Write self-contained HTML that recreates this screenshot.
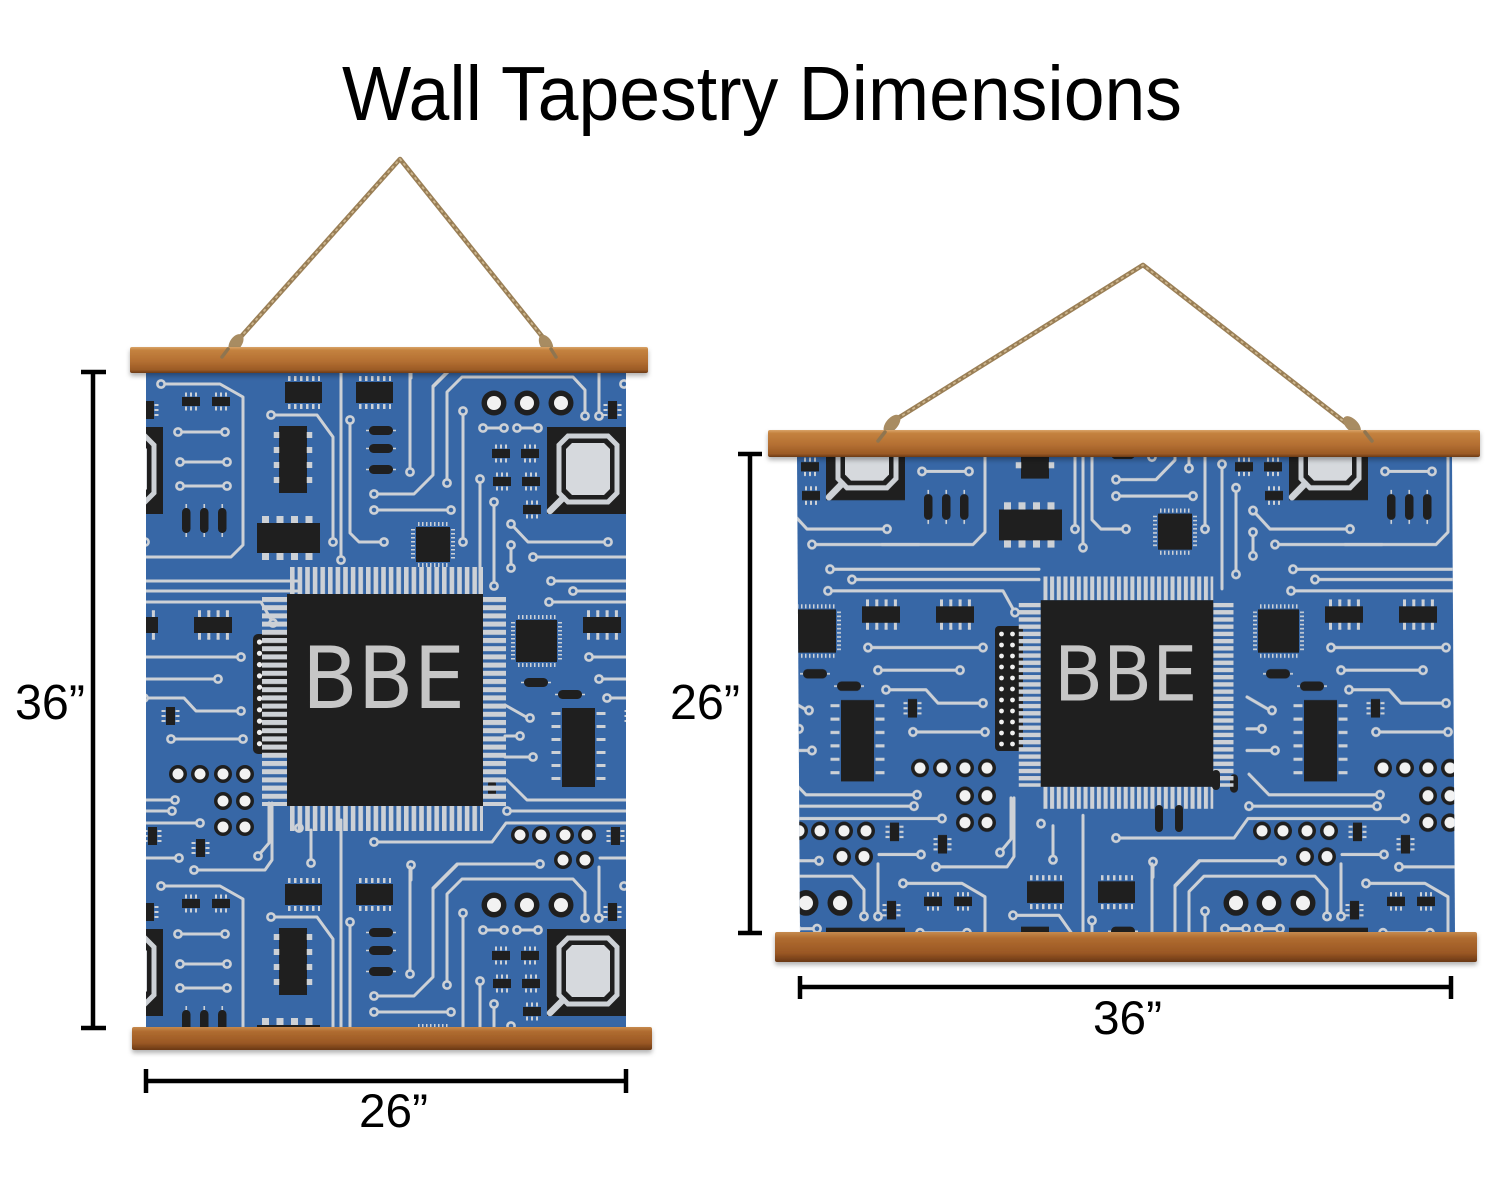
<!DOCTYPE html>
<html>
<head>
<meta charset="utf-8">
<style>
html,body{margin:0;padding:0;background:#fff;}
svg{display:block;}
</style>
</head>
<body>
<svg width="1500" height="1180" viewBox="0 0 1500 1180" xmlns="http://www.w3.org/2000/svg">
<defs>
<style>
.t{fill:none;stroke:#cdd1d6;stroke-width:3;stroke-linejoin:round;stroke-linecap:round}
.c{fill:#3767a6;stroke:#cdd1d6;stroke-width:2.6}
.k{fill:#1f1f1f}
.p{fill:none;stroke:#cdd1d6}
.w{fill:#f2f2f2}
</style>
<linearGradient id="wd" x1="0" y1="0" x2="0" y2="1">
<stop offset="0" stop-color="#d9a468"/><stop offset=".12" stop-color="#c4823f"/><stop offset=".55" stop-color="#b46f32"/><stop offset=".88" stop-color="#9b5a25"/><stop offset="1" stop-color="#6b3a16"/>
</linearGradient>
<linearGradient id="wd2" x1="0" y1="0" x2="0" y2="1">
<stop offset="0" stop-color="#c68a4e"/><stop offset=".2" stop-color="#b06c30"/><stop offset=".7" stop-color="#9a5724"/><stop offset="1" stop-color="#6a3815"/>
</linearGradient>
<filter id="sh" x="-5%" y="-50%" width="110%" height="250%">
<feDropShadow dx="0" dy="3" stdDeviation="2.5" flood-color="#000" flood-opacity=".3"/>
</filter>
<pattern id="vs" patternUnits="userSpaceOnUse" x="290" y="0" width="7.6" height="10"><rect width="4.6" height="10" fill="#cdd1d6"/></pattern>
<pattern id="hs" patternUnits="userSpaceOnUse" x="0" y="597" width="10" height="8.2"><rect width="10" height="5" fill="#cdd1d6"/></pattern>

<g id="sic"><rect class="k" width="18" height="9"/><path class="p" d="M3,-2.5H16M3,11.5H16" stroke-width="4" stroke-dasharray="2 3"/></g>
<g id="sicv"><rect class="k" width="9" height="18"/><path class="p" d="M-2.5,3V16M11.5,3V16" stroke-width="4" stroke-dasharray="2 3"/></g>
<g id="ic4"><rect class="k" width="38" height="16"/><path class="p" d="M4,-3H36M4,19H36" stroke-width="6" stroke-dasharray="3 6.3"/><path class="p" d="M4,-6H36M4,22H36" stroke-width="1.5" stroke-dasharray="3 6.3"/></g>
<g id="ic6"><rect class="k" width="37" height="21"/><path class="p" d="M3,-3.5H35M3,24.5H35" stroke-width="5" stroke-dasharray="2.5 3.5"/></g>
<g id="bc"><circle class="k" r="12.5"/><circle class="w" r="7"/></g>
<g id="mc"><circle class="k" r="9"/><circle class="w" r="5.5"/></g>
<g id="rh"><rect class="k" width="24" height="9" rx="4.5"/><path class="p" d="M-3,4.5H0M24,4.5H27" stroke-width="1.6"/></g>
<g id="rv"><rect class="k" width="8.5" height="25" rx="4.2"/><path class="p" d="M4.25,-4V0M4.25,25V29" stroke-width="1.6"/></g>

<g id="tile">
<path class="t" d="M161,384H220L243,397V545L231,557H140"/>
<path class="t" d="M533,557H640"/>
<path class="t" d="M178,432H225M180,462H227M180,486H227"/>
<path class="t" d="M271,415H317L333,437V542"/>
<path class="t" d="M341,365V560M341,820V880"/>
<path class="t" d="M350,420V533L359,542H384"/>
<path class="t" d="M410,365V472M411,865V880"/>
<path class="t" d="M374,494H414L433,475V387L457,363"/>
<path class="t" d="M540,864H457L433,888"/>
<path class="t" d="M374,510H451"/>
<path class="t" d="M447,483V392L462,377H573L585,390V416"/>
<path class="t" d="M599,365V416"/>
<path class="t" d="M463,411V542"/>
<path class="t" d="M480,479V600"/>
<path class="t" d="M494,502V586"/>
<path class="t" d="M511,524L528,542H608"/>
<path class="t" d="M511,545V568"/>
<path class="t" d="M551,581H760M573,591H760"/>
<path class="t" d="M549,602H724L736,623"/>
<path class="t" d="M589,657H704M599,679H681"/>
<path class="t" d="M607,698H647L659,711H704"/>
<path class="t" d="M171,739H243"/>
<path class="t" d="M507,780L527,800H638"/>
<path class="t" d="M507,811H635"/>
<path class="t" d="M374,842H492L506,823H663"/>
<path class="t" d="M600,858H642"/>
<path class="t" d="M194,870H265L272,860V803"/>
<path class="t" d="M258,856L269,843V803"/>
<path class="t" d="M311,863V830"/>
<path class="t" d="M505,705L528,718M505,736H520M505,757H533"/>
<path class="t" d="M483,428H504M517,428H538"/>
<g>
<circle class="c" cx="161" cy="384" r="3.6"/><circle class="c" cx="178" cy="432" r="3.6"/><circle class="c" cx="225" cy="432" r="3.6"/>
<circle class="c" cx="180" cy="462" r="3.6"/><circle class="c" cx="227" cy="462" r="3.6"/><circle class="c" cx="180" cy="486" r="3.6"/>
<circle class="c" cx="227" cy="486" r="3.6"/><circle class="c" cx="271" cy="415" r="3.6"/><circle class="c" cx="333" cy="542" r="3.6"/>
<circle class="c" cx="341" cy="560" r="3.6"/><circle class="c" cx="350" cy="420" r="3.6"/><circle class="c" cx="384" cy="542" r="3.6"/>
<circle class="c" cx="410" cy="472" r="3.6"/><circle class="c" cx="411" cy="865" r="3.6"/><circle class="c" cx="374" cy="494" r="3.6"/>
<circle class="c" cx="374" cy="510" r="3.6"/><circle class="c" cx="451" cy="510" r="3.6"/><circle class="c" cx="447" cy="483" r="3.6"/>
<circle class="c" cx="585" cy="416" r="3.6"/><circle class="c" cx="599" cy="416" r="3.6"/><circle class="c" cx="463" cy="411" r="3.6"/>
<circle class="c" cx="463" cy="542" r="3.6"/><circle class="c" cx="480" cy="479" r="3.6"/><circle class="c" cx="494" cy="502" r="3.6"/>
<circle class="c" cx="494" cy="586" r="3.6"/><circle class="c" cx="511" cy="524" r="3.6"/><circle class="c" cx="608" cy="542" r="3.6"/>
<circle class="c" cx="511" cy="545" r="3.6"/><circle class="c" cx="511" cy="568" r="3.6"/><circle class="c" cx="533" cy="557" r="3.6"/>
<circle class="c" cx="551" cy="581" r="3.6"/><circle class="c" cx="573" cy="591" r="3.6"/><circle class="c" cx="549" cy="602" r="3.6"/>
<circle class="c" cx="736" cy="623" r="3.6"/><circle class="c" cx="589" cy="657" r="3.6"/><circle class="c" cx="704" cy="657" r="3.6"/>
<circle class="c" cx="599" cy="679" r="3.6"/><circle class="c" cx="681" cy="679" r="3.6"/><circle class="c" cx="607" cy="698" r="3.6"/>
<circle class="c" cx="704" cy="711" r="3.6"/><circle class="c" cx="171" cy="739" r="3.6"/><circle class="c" cx="243" cy="739" r="3.6"/>
<circle class="c" cx="638" cy="800" r="3.6"/><circle class="c" cx="507" cy="811" r="3.6"/><circle class="c" cx="635" cy="811" r="3.6"/>
<circle class="c" cx="374" cy="842" r="3.6"/><circle class="c" cx="663" cy="823" r="3.6"/><circle class="c" cx="642" cy="858" r="3.6"/>
<circle class="c" cx="194" cy="870" r="3.6"/><circle class="c" cx="258" cy="856" r="3.6"/><circle class="c" cx="311" cy="863" r="3.6"/>
<circle class="c" cx="540" cy="864" r="3.6"/><circle class="c" cx="530" cy="718" r="3.6"/><circle class="c" cx="520" cy="736" r="3.6"/>
<circle class="c" cx="533" cy="757" r="3.6"/><circle class="c" cx="299" cy="828" r="3.6"/>
<circle class="c" cx="483" cy="428" r="3.6"/><circle class="c" cx="504" cy="428" r="3.6"/><circle class="c" cx="517" cy="428" r="3.6"/><circle class="c" cx="538" cy="428" r="3.6"/>
</g>
<use href="#sic" x="182" y="397"/><use href="#sic" x="212" y="397"/>
<use href="#sic" x="492" y="449"/><use href="#sic" x="521" y="449"/>
<use href="#sic" x="493" y="477"/><use href="#sic" x="522" y="477"/><use href="#sic" x="523" y="505"/>
<use href="#sicv" x="608" y="401"/><use href="#sicv" x="166" y="707"/><use href="#sicv" x="611" y="827"/><use href="#sicv" x="196" y="839"/>
<use href="#rv" x="182" y="508"/><use href="#rv" x="200" y="508"/><use href="#rv" x="218" y="508"/>
<use href="#rh" x="369" y="426"/><use href="#rh" x="369" y="444"/><use href="#rh" x="369" y="465"/>
<use href="#rh" x="524" y="678"/><use href="#rh" x="558" y="690"/>
<rect class="k" x="488" y="780" width="8" height="18" rx="4"/>
<rect class="k" x="279" y="426" width="28" height="67"/>
<path class="p" d="M276.5,432V484M309.5,432V484" stroke-width="5.5" stroke-dasharray="6 9"/>
<rect class="k" x="257" y="523" width="63" height="30"/>
<path class="p" d="M262,519.5H316M262,556.5H316" stroke-width="7" stroke-dasharray="7 7.5"/>
<use href="#ic6" x="285" y="382"/><use href="#ic6" x="356" y="382"/>
<use href="#bc" x="494" y="403"/><use href="#bc" x="527" y="403"/><use href="#bc" x="561" y="403"/>
<rect class="k" x="547" y="427" width="79" height="87"/>
<polygon points="568,436 608,436 617,445 617,493 608,502 568,502 559,493 559,445" fill="none" stroke="#cdd1d6" stroke-width="5"/>
<polygon points="572,443 604,443 610,449 610,489 604,495 572,495 566,489 566,449" fill="#d6d9dd"/>
<path d="M563,498L550,511" stroke="#cdd1d6" stroke-width="6.5" stroke-linecap="round"/>
<rect class="k" x="416" y="527" width="34" height="35"/>
<path class="p" d="M418,524H449M418,565H449" stroke-width="4" stroke-dasharray="1.5 2.5"/>
<path class="p" d="M413,529V561M453,529V561" stroke-width="4" stroke-dasharray="1.5 2.5"/>
<rect class="k" x="516" y="620" width="41" height="42"/>
<path class="p" d="M518,617H556M518,665H556" stroke-width="4" stroke-dasharray="1.5 2.5"/>
<path class="p" d="M513,622V661M560,622V661" stroke-width="4" stroke-dasharray="1.5 2.5"/>
<use href="#ic4" x="194" y="617"/><use href="#ic4" x="583" y="617"/>
<rect class="k" x="562" y="708" width="33" height="79"/>
<path class="p" d="M556,712V786M601,712V786" stroke-width="9" stroke-dasharray="3 10"/>
<use href="#mc" x="178" y="774"/><use href="#mc" x="200" y="774"/><use href="#mc" x="223" y="774"/><use href="#mc" x="245" y="774"/>
<use href="#mc" x="223" y="801"/><use href="#mc" x="245" y="801"/><use href="#mc" x="223" y="827"/><use href="#mc" x="245" y="827"/>
<use href="#mc" x="520" y="835"/><use href="#mc" x="541" y="835"/><use href="#mc" x="565" y="835"/><use href="#mc" x="587" y="835"/>
<use href="#mc" x="563" y="860"/><use href="#mc" x="585" y="860"/>
</g>

<pattern id="pL" patternUnits="userSpaceOnUse" x="162" y="373" width="463" height="502">
<g transform="translate(-162,-373)">
<use href="#tile"/><use href="#tile" x="-463"/><use href="#tile" x="463"/>
<use href="#tile" y="-502"/><use href="#tile" y="502"/>
<use href="#tile" x="-463" y="-502"/><use href="#tile" x="463" y="-502"/>
<use href="#tile" x="-463" y="502"/><use href="#tile" x="463" y="502"/>
</g>
</pattern>
<pattern id="pR" patternUnits="userSpaceOnUse" x="0" y="0" width="463" height="502" patternTransform="translate(441,355) scale(1,1.03)">
<g transform="translate(-162,-373)">
<use href="#tile"/><use href="#tile" x="-463"/><use href="#tile" x="463"/>
<use href="#tile" y="-502"/><use href="#tile" y="502"/>
<use href="#tile" x="-463" y="-502"/><use href="#tile" x="463" y="-502"/>
<use href="#tile" x="-463" y="502"/><use href="#tile" x="463" y="502"/>
</g>
</pattern>

<g id="chip">
<rect x="290" y="567" width="193" height="27" fill="url(#vs)"/>
<rect x="290" y="806" width="193" height="25" fill="url(#vs)"/>
<rect x="262" y="597" width="25" height="209" fill="url(#hs)"/>
<rect x="483" y="597" width="23" height="209" fill="url(#hs)"/>
<rect class="k" x="287" y="594" width="196" height="212"/>
<text x="302" y="708" font-family="'DejaVu Sans', 'Liberation Sans', sans-serif" font-size="86" fill="#c6c6c6" textLength="163" lengthAdjust="spacingAndGlyphs">BBE</text>
</g>
</defs>

<rect width="1500" height="1180" fill="#ffffff"/>

<text x="342" y="120" font-family="'Liberation Sans', Arial, sans-serif" font-size="77" fill="#000" textLength="840" lengthAdjust="spacingAndGlyphs">Wall Tapestry Dimensions</text>

<!-- LEFT TAPESTRY -->
<path d="M226,358L238,340L400,159L545,340L553,358" fill="none" stroke="#9a7f56" stroke-width="4.6" stroke-linejoin="round" stroke-linecap="round"/>
<path d="M226,358L238,340L400,159L545,340L553,358" fill="none" stroke="#cdb68e" stroke-width="1.8" stroke-dasharray="3 3" stroke-linejoin="round"/>
<ellipse cx="236" cy="343" rx="6" ry="10" transform="rotate(35 236 343)" fill="#a88c62"/>
<ellipse cx="546" cy="344" rx="6" ry="10" transform="rotate(-30 546 344)" fill="#a88c62"/>

<rect x="146" y="373" width="480" height="656" fill="#3767a6"/>
<rect x="146" y="373" width="480" height="656" fill="url(#pL)"/>
<rect class="k" x="253" y="634" width="36" height="120" rx="5"/>
<g fill="#f0f0f0">
<circle cx="259.5" cy="642" r="2.6"/><circle cx="259.5" cy="653.3" r="2.6"/><circle cx="259.5" cy="664.6" r="2.6"/><circle cx="259.5" cy="675.9" r="2.6"/><circle cx="259.5" cy="687.2" r="2.6"/>
<circle cx="259.5" cy="698.5" r="2.6"/><circle cx="259.5" cy="709.8" r="2.6"/><circle cx="259.5" cy="721.1" r="2.6"/><circle cx="259.5" cy="732.4" r="2.6"/><circle cx="259.5" cy="743.7" r="2.6"/>
</g>
<use href="#chip"/>

<rect x="130" y="347" width="518" height="26" rx="2" fill="url(#wd)" filter="url(#sh)"/>
<rect x="132" y="1027" width="520" height="23" rx="2" fill="url(#wd2)" filter="url(#sh)"/>
<path d="M222,357l6,-8" stroke="#8f7550" stroke-width="3.5" stroke-linecap="round"/>
<path d="M556,357l-5,-8" stroke="#8f7550" stroke-width="3.5" stroke-linecap="round"/>

<!-- RIGHT TAPESTRY -->
<path d="M880,443L895,420L1143,265L1342,420L1370,443" fill="none" stroke="#9a7f56" stroke-width="4.6" stroke-linejoin="round" stroke-linecap="round"/>
<path d="M880,443L895,420L1143,265L1342,420L1370,443" fill="none" stroke="#cdb68e" stroke-width="1.8" stroke-dasharray="3 3" stroke-linejoin="round"/>
<ellipse cx="892" cy="424" rx="6" ry="11" transform="rotate(40 892 424)" fill="#a88c62"/>
<ellipse cx="1352" cy="425" rx="6" ry="11" transform="rotate(-45 1352 425)" fill="#a88c62"/>

<polygon points="797,457 1452,457 1455,935 800,935" fill="#3767a6"/>
<polygon points="797,457 1452,457 1455,935 800,935" fill="url(#pR)"/>
<rect class="k" x="995" y="626" width="28" height="125" rx="4"/>
<g fill="#f0f0f0">
<circle cx="1001.5" cy="634" r="2.4"/><circle cx="1001.5" cy="645" r="2.4"/><circle cx="1001.5" cy="656" r="2.4"/><circle cx="1001.5" cy="667" r="2.4"/><circle cx="1001.5" cy="678" r="2.4"/><circle cx="1001.5" cy="689" r="2.4"/><circle cx="1001.5" cy="700" r="2.4"/><circle cx="1001.5" cy="711" r="2.4"/><circle cx="1001.5" cy="722" r="2.4"/><circle cx="1001.5" cy="733" r="2.4"/><circle cx="1001.5" cy="744" r="2.4"/>
<circle cx="1012.5" cy="634" r="2.4"/><circle cx="1012.5" cy="645" r="2.4"/><circle cx="1012.5" cy="656" r="2.4"/><circle cx="1012.5" cy="667" r="2.4"/><circle cx="1012.5" cy="678" r="2.4"/><circle cx="1012.5" cy="689" r="2.4"/><circle cx="1012.5" cy="700" r="2.4"/><circle cx="1012.5" cy="711" r="2.4"/><circle cx="1012.5" cy="722" r="2.4"/><circle cx="1012.5" cy="733" r="2.4"/><circle cx="1012.5" cy="744" r="2.4"/>
</g>
<use href="#chip" transform="translate(1127,693.5) scale(0.88) translate(-385,-700)"/>
<rect class="k" x="1155" y="805" width="8" height="27" rx="4"/>
<rect class="k" x="1175" y="805" width="8" height="27" rx="4"/>
<rect class="k" x="1212" y="770" width="8" height="20" rx="4"/>

<rect x="768" y="430" width="712" height="27" rx="2" fill="url(#wd)" filter="url(#sh)"/>
<rect x="775" y="932" width="702" height="30" rx="2" fill="url(#wd2)" filter="url(#sh)"/>
<path d="M878,441l7,-9" stroke="#8f7550" stroke-width="3.5" stroke-linecap="round"/>
<path d="M1372,441l-7,-9" stroke="#8f7550" stroke-width="3.5" stroke-linecap="round"/>

<!-- DIMENSIONS -->
<g stroke="#000" stroke-width="4.5" fill="none">
<path d="M93,372V1028M81,372H106M81,1028H106"/>
<path d="M146,1081H626M146,1069V1093M626,1069V1093"/>
<path d="M750,454V933M738,454H762M738,933H762"/>
<path d="M800,987H1451M800,976V999M1451,976V999"/>
</g>
<g font-family="'Liberation Sans', Arial, sans-serif" fill="#000">
<text x="15" y="719" font-size="49" textLength="70" lengthAdjust="spacingAndGlyphs">36”</text>
<text x="359" y="1127" font-size="47" textLength="69" lengthAdjust="spacingAndGlyphs">26”</text>
<text x="670" y="719" font-size="49" textLength="70" lengthAdjust="spacingAndGlyphs">26”</text>
<text x="1093" y="1034" font-size="47" textLength="69" lengthAdjust="spacingAndGlyphs">36”</text>
</g>
</svg>
</body>
</html>
